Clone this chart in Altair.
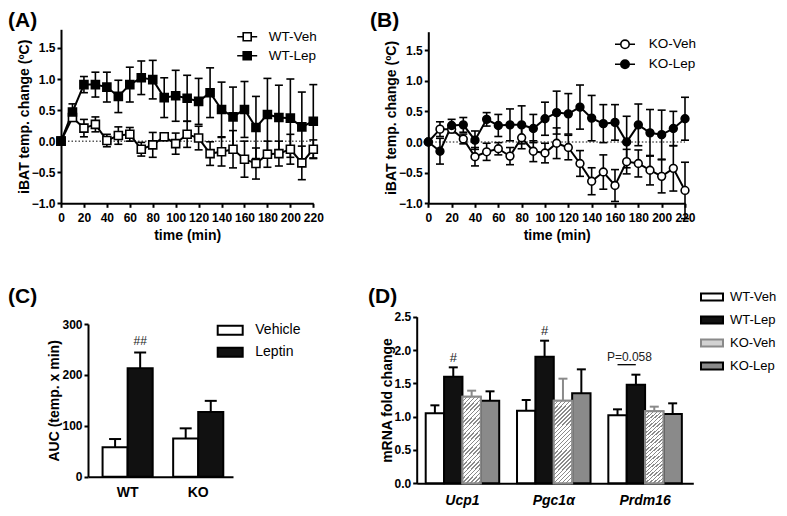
import altair as alt
import pandas as pd

FONT = "Liberation Sans"
BLACK = "#000000"
GRAY = "#8a8a8a"

# ---------------- data ----------------
time_min = [0, 10, 20, 30, 40, 50, 60, 70, 80, 90, 100, 110, 120, 130, 140, 150,
            160, 170, 180, 190, 200, 210, 220]

wt_veh = [0, 0.38, 0.21, 0.27, 0.01, 0.09, 0.11, -0.13, -0.06, 0.07, -0.04, 0.11,
          0.05, -0.20, -0.17, -0.13, -0.29, -0.36, -0.21, -0.20, -0.13, -0.35, -0.13]
wt_veh_err = [0, 0.06, 0.14, 0.12, 0.10, 0.14, 0.11, 0.11, 0.20, 0.06, 0.17, 0.21,
              0.19, 0.19, 0.23, 0.30, 0.29, 0.25, 0.21, 0.20, 0.24, 0.27, 0.15]
wt_lep = [0, 0.47, 0.91, 0.91, 0.87, 0.72, 0.91, 1.02, 0.99, 0.70, 0.73, 0.69,
          0.64, 0.78, 0.51, 0.39, 0.51, 0.22, 0.43, 0.38, 0.37, 0.23, 0.32]
wt_lep_err = [0, 0.13, 0.13, 0.20, 0.24, 0.26, 0.28, 0.27, 0.31, 0.32, 0.41, 0.37,
              0.37, 0.40, 0.44, 0.48, 0.45, 0.50, 0.58, 0.52, 0.63, 0.56, 0.59]

ko_veh = [0, 0.21, 0.21, 0.05, -0.24, -0.16, -0.11, -0.23, 0.07, -0.15, -0.18, -0.02,
          -0.09, -0.35, -0.64, -0.49, -0.71, -0.32, -0.35, -0.46, -0.56, -0.43, -0.79]
ko_veh_err = [0, 0.12, 0.06, 0.08, 0.15, 0.14, 0.10, 0.14, 0.18, 0.17, 0.16, 0.25,
              0.20, 0.21, 0.22, 0.28, 0.26, 0.20, 0.22, 0.24, 0.27, 0.37, 0.46]
ko_lep = [0, -0.15, 0.27, 0.28, 0.03, 0.37, 0.27, 0.28, 0.28, 0.22, 0.38, 0.48,
          0.46, 0.57, 0.39, 0.30, 0.32, 0.00, 0.28, 0.15, 0.12, 0.22, 0.38]
ko_lep_err = [0, 0.21, 0.10, 0.12, 0.15, 0.11, 0.18, 0.26, 0.31, 0.23, 0.27, 0.35,
              0.33, 0.36, 0.37, 0.31, 0.29, 0.42, 0.34, 0.38, 0.40, 0.28, 0.35]

genotypes = ["WT", "KO"]
treatments = ["Vehicle", "Leptin"]
auc_wt = [58, 213]
auc_wt_err = [16, 31]
auc_ko = [75, 127]
auc_ko_err = [20, 22]

genes = ["Ucp1", "Pgc1\u03b1", "Prdm16"]
groups = ["WT-Veh", "WT-Lep", "KO-Veh", "KO-Lep"]
ucp1 = [1.05, 1.60, 1.30, 1.24]
ucp1_err = [0.12, 0.14, 0.09, 0.14]
pgc1a = [1.09, 1.90, 1.24, 1.35]
pgc1a_err = [0.16, 0.24, 0.33, 0.36]
prdm16 = [1.02, 1.48, 1.08, 1.04]
prdm16_err = [0.09, 0.15, 0.07, 0.16]

# annotations
aucC_note = {"geno": ["WT"], "treat": ["Leptin"], "y": [266], "lab": ["##"]}
mrna_note = {"gene": ["Ucp1", "Pgc1\u03b1"], "series": ["WT-Lep", "WT-Lep"],
             "y": [1.88, 2.29], "lab": ["#", "#"]}
p_note = {"gene": ["Prdm16"], "series": ["WT-Lep"], "y": [1.90], "lab": ["P=0.058"]}
p_line = {"gene": ["Prdm16"], "gene2": ["Prdm16"], "series": ["WT-Veh"], "y": [1.78]}


# ---------------- helpers ----------------
def axis(orient, offset, title, values=None, fmt=None, ticks=True, label_size=12,
         label_style="normal", label_pad=3, title_pad=2):
    kw = dict(orient=orient, offset=offset, title=title, grid=False,
              domainColor=BLACK, domainWidth=2, ticks=ticks, tickColor=BLACK,
              tickWidth=2, tickSize=4, labelFont=FONT, labelFontSize=label_size,
              labelFontWeight="bold", labelFontStyle=label_style, labelColor=BLACK,
              labelPadding=label_pad, labelFlush=False, labelOverlap=False, labelAngle=0,
              titleFont=FONT, titleFontSize=14, titleFontWeight="bold", titleColor=BLACK,
              titlePadding=title_pad)
    if values is not None:
        kw["values"] = values
    if fmt:
        kw["format"] = fmt
    return alt.Axis(**kw)


def time_panel(veh, veh_err, lep, lep_err, names, xr, yr, shape, size,
               sym_path, lx, ly, loff, rpad):
    df = pd.DataFrame({
        "time": time_min * 2,
        "val": veh + lep,
        "err": veh_err + lep_err,
        "series": [names[0]] * len(time_min) + [names[1]] * len(time_min),
    })
    df["lo"] = df["val"] - df["err"]
    df["hi"] = df["val"] + df["err"]
    xs = alt.Scale(domain=[0, 220], range=xr, nice=False, zero=False)
    ys = alt.Scale(domain=[-1, 1.8], range=yr, nice=False, zero=False)
    xax = axis("bottom", yr[0] - 500, "time (min)", values=list(range(0, 221, 20)),
               label_pad=5, title_pad=5)
    yax = axis("left", -xr[0], "iBAT temp. change (\u00baC)",
               values=[-1, -0.5, 0, 0.5, 1, 1.5], fmt=".1f", label_pad=2, title_pad=0)

    def X(f):
        return alt.X(f, scale=xs, axis=xax)

    def Y(f):
        return alt.Y(f, scale=ys, axis=yax)

    zero = alt.Chart(pd.DataFrame({"t0": [0], "t1": [220], "z": [0]})).mark_rule(
        strokeDash=[1.5, 2], strokeWidth=1, color=BLACK
    ).encode(x=X("t0:Q"), x2="t1:Q", y=Y("z:Q"))
    bars = alt.Chart(df).mark_rule(color=BLACK, strokeWidth=1.6).encode(
        x=X("time:Q"), y=Y("lo:Q"), y2="hi:Q")
    caps = alt.Chart(df).transform_fold(["lo", "hi"], as_=["end", "v"]).mark_tick(
        orient="horizontal", size=8, thickness=1.6, color=BLACK, opacity=1
    ).encode(x=X("time:Q"), y=Y("v:Q"), detail="end:N")
    line = alt.Chart(df).mark_line(color=BLACK, strokeWidth=2).encode(
        x=X("time:Q"), y=Y("val:Q"), detail="series:N")
    pts = alt.Chart(df).mark_point(
        shape=shape, filled=True, size=size, stroke=BLACK, strokeWidth=1.6, opacity=1
    ).encode(
        x=X("time:Q"), y=Y("val:Q"),
        fill=alt.Fill("series:N", scale=alt.Scale(domain=names, range=["white", BLACK]),
                      legend=alt.Legend(title=None, orient="none", legendX=lx, legendY=ly,
                                        direction="vertical", symbolType=sym_path,
                                        symbolSize=400, symbolStrokeWidth=1.6,
                                        symbolStrokeColor=BLACK, labelFont=FONT,
                                        labelFontSize=13.5, labelColor=BLACK,
                                        labelOffset=loff, rowPadding=rpad, padding=0,
                                        symbolOffset=0)),
    )
    return alt.layer(zero, bars, caps, line, pts)


SQ_PATH = "M-1,0H-0.4M0.4,0H1M-0.4,-0.4H0.4V0.4H-0.4Z"
CI_PATH = "M-1,0H-0.42M0.42,0H1M-0.42,0A0.42,0.42,0,1,0,0.42,0A0.42,0.42,0,1,0,-0.42,0Z"

panelA = time_panel(wt_veh, wt_veh_err, wt_lep, wt_lep_err, ["WT-Veh", "WT-Lep"],
                    [53, 305.3], [195.3, 21.3], "square", 64, SQ_PATH,
                    228.2, 17.7, 10.5, 0)
panelB = time_panel(ko_veh, ko_veh_err, ko_lep, ko_lep_err, ["KO-Veh", "KO-Lep"],
                    [420.3, 677], [195.3, 23.7], "circle", 60, CI_PATH,
                    606, 25.3, 12.7, 1)

# ---------------- panel C ----------------
dfC = pd.DataFrame({
    "geno": ["WT", "WT", "KO", "KO"],
    "treat": treatments * 2,
    "auc": auc_wt + auc_ko,
    "err": auc_wt_err + auc_ko_err,
})
dfC["hi"] = dfC["auc"] + dfC["err"]
xsC = alt.Scale(domain=genotypes, range=[80, 225], paddingInner=0.29, paddingOuter=0.172,
                align=0.6)
ysC = alt.Scale(domain=[0, 300], range=[468.7, 316], nice=False, zero=True)
xoC = alt.Scale(domain=treatments, paddingInner=0, paddingOuter=0)
xaxC = axis("bottom", 468.7 - 500, None, ticks=False, label_size=14, label_pad=9)
yaxC = axis("left", -80, "AUC (temp. x min)", values=[0, 100, 200, 300], label_pad=2,
            title_pad=0)
XC = alt.X("geno:N", scale=xsC, axis=xaxC, sort=genotypes)
XOC = alt.XOffset("treat:N", scale=xoC, sort=treatments)

errC = alt.Chart(dfC).mark_rule(color=BLACK, strokeWidth=2).encode(
    x=XC, xOffset=XOC, y=alt.Y("auc:Q", scale=ysC, axis=yaxC), y2="hi:Q")
capC = alt.Chart(dfC).mark_tick(orient="horizontal", size=12, thickness=2, color=BLACK,
                                opacity=1).encode(
    x=XC, xOffset=XOC, y=alt.Y("hi:Q", scale=ysC, axis=yaxC))
barC = alt.Chart(dfC).mark_bar(stroke=BLACK, strokeWidth=2).encode(
    x=XC, xOffset=XOC, y=alt.Y("auc:Q", scale=ysC, axis=yaxC),
    fill=alt.Fill("treat:N", scale=alt.Scale(domain=treatments, range=["white", "#111111"]),
                  legend=alt.Legend(title=None, orient="none", legendX=208.7, legendY=308.8,
                                    direction="vertical",
                                    symbolType="M-1,-0.36H1V0.36H-1Z", symbolSize=625,
                                    symbolStrokeWidth=2, symbolStrokeColor=BLACK,
                                    labelFont=FONT, labelFontSize=14, labelColor=BLACK,
                                    labelOffset=11.6, rowPadding=-1.6, padding=0,
                                    symbolOffset=0)))
noteC = alt.Chart(pd.DataFrame(aucC_note)).mark_text(
    font=FONT, fontSize=12, color="#222222", baseline="middle").encode(
    x=XC, xOffset=XOC, y=alt.Y("y:Q", scale=ysC, axis=yaxC), text="lab:N")
panelC = alt.layer(errC, capC, barC, noteC)

# ---------------- panel D ----------------
dfD = pd.DataFrame({
    "gene": [g for g in genes for _ in groups],
    "series": groups * 3,
    "val": ucp1 + pgc1a + prdm16,
    "err": ucp1_err + pgc1a_err + prdm16_err,
})
dfD["hi"] = dfD["val"] + dfD["err"]
xsD = alt.Scale(domain=genes, range=[408.7, 685.3], paddingInner=0.195, paddingOuter=0.112,
                align=0.44)
ysD = alt.Scale(domain=[0, 2.5], range=[475.3, 308.7], nice=False, zero=True)
xoD = alt.Scale(domain=groups, paddingInner=0, paddingOuter=0)
xaxD = axis("bottom", 475.3 - 500, None, ticks=False, label_size=14, label_style="italic",
            label_pad=10)
yaxD = axis("left", -408.7, "mRNA fold change", values=[0, 0.5, 1, 1.5, 2, 2.5], fmt=".1f",
            label_pad=2, title_pad=0)
XD = alt.X("gene:N", scale=xsD, axis=xaxD, sort=genes)
XOD = alt.XOffset("series:N", scale=xoD, sort=groups)
YD_val = alt.Y("val:Q", scale=ysD, axis=yaxD)
YD_hi = alt.Y("hi:Q", scale=ysD, axis=yaxD)


def err_layers(is_gray):
    col = GRAY if is_gray else BLACK
    flt = (alt.datum.series == "KO-Veh") if is_gray else (alt.datum.series != "KO-Veh")
    r = alt.Chart(dfD).transform_filter(flt).mark_rule(strokeWidth=2, color=col).encode(
        x=XD, xOffset=XOD, y=YD_val, y2="hi:Q")
    c = alt.Chart(dfD).transform_filter(flt).mark_tick(
        orient="horizontal", size=9, thickness=2, opacity=1, color=col).encode(
        x=XD, xOffset=XOD, y=YD_hi)
    return [r, c]


legD = alt.Legend(title=None, orient="none", legendX=692, legendY=277, direction="vertical",
                  symbolType="M-1,-0.32H1V0.32H-1Z", symbolSize=484, symbolStrokeWidth=2,
                  labelFont=FONT, labelFontSize=13, labelColor=BLACK, labelOffset=6,
                  rowPadding=3, padding=0, symbolOffset=0)
barD = alt.Chart(dfD).mark_bar(strokeWidth=2).encode(
    x=XD, xOffset=XOD, y=YD_val,
    fill=alt.Fill("series:N", scale=alt.Scale(domain=groups,
                                              range=["white", "#111111", "#d2d2d2", GRAY]),
                  legend=legD),
    stroke=alt.Stroke("series:N", scale=alt.Scale(domain=groups,
                                                  range=[BLACK, BLACK, GRAY, BLACK]),
                      legend=legD),
)

# diagonal hatch for KO-Veh bars, built as a striped linear gradient
stops = []
period, ink = 0.0107, 0.36
t = 0.0
while t < 0.34:
    stops += [alt.GradientStop(offset=round(t, 5), color=GRAY),
              alt.GradientStop(offset=round(t + period * ink, 5), color=GRAY),
              alt.GradientStop(offset=round(t + period * ink, 5), color="white"),
              alt.GradientStop(offset=round(t + period, 5), color="white")]
    t += period
hatch = alt.LinearGradient(gradient="linear", stops=stops, x1=0, y1=0, x2=1, y2=4.4)
hatchD = alt.Chart(dfD).transform_filter(alt.datum.series == "KO-Veh").mark_bar(
    fill=hatch, stroke=GRAY, strokeWidth=2).encode(x=XD, xOffset=XOD, y=YD_val)

noteD = alt.Chart(pd.DataFrame(mrna_note)).mark_text(
    font=FONT, fontSize=13, color="#222222", baseline="middle").encode(
    x=XD, xOffset=XOD, y=alt.Y("y:Q", scale=ysD, axis=yaxD), text="lab:N")
pText = alt.Chart(pd.DataFrame(p_note)).mark_text(
    font=FONT, fontSize=12, color="#222222", baseline="middle", dx=-6.5).encode(
    x=XD, xOffset=XOD, y=alt.Y("y:Q", scale=ysD, axis=yaxD), text="lab:N")
pLine = alt.Chart(pd.DataFrame(p_line)).mark_rule(color=BLACK, strokeWidth=1.3,
                                                   x2Offset=-9.3).encode(
    x=XD, xOffset=XOD, x2="gene2:N", y=alt.Y("y:Q", scale=ysD, axis=yaxD))
panelD = alt.layer(*err_layers(False), *err_layers(True), barD, hatchD, noteD, pText, pLine)


# ---------------- panel letters ----------------
def letter(txt, x, y):
    return alt.Chart(pd.DataFrame({"lab": [txt]})).mark_text(
        x=x, y=y, align="left", baseline="middle", font=FONT, fontSize=21,
        fontWeight="bold", color=BLACK).encode(text="lab:N")


chart = alt.layer(
    panelA, panelB, panelC, panelD,
    letter("(A)", 0, 13), letter("(B)", 362, 13), letter("(C)", 0, 289), letter("(D)", 360, 289),
).resolve_scale(
    x="independent", y="independent", xOffset="independent", fill="independent",
    stroke="independent", color="independent",
).properties(
    width=771, height=500, padding=0, autosize=alt.AutoSizeParams(type="none"),
).configure_view(stroke=None)

chart.save("out.html", embed_options={"renderer": "svg", "actions": False})
